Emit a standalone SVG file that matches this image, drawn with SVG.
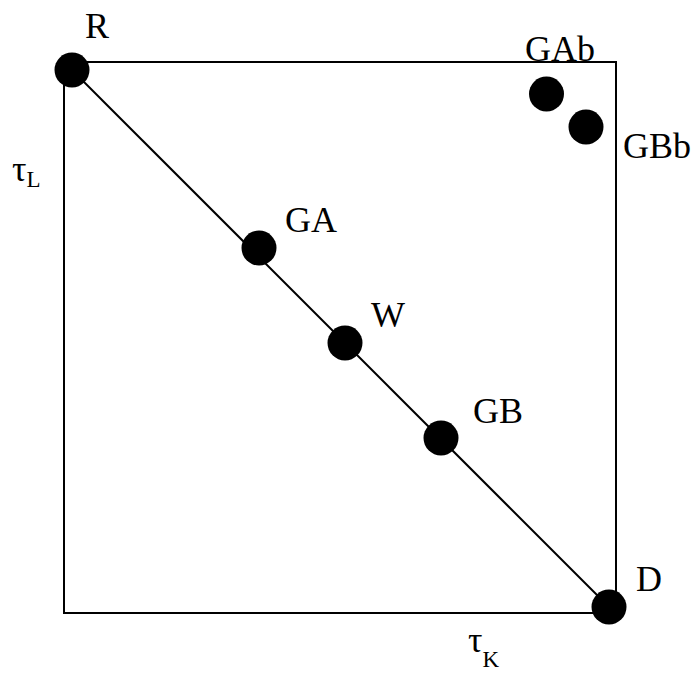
<svg xmlns="http://www.w3.org/2000/svg" width="696" height="677" viewBox="0 0 696 677">
<style>
.lbl{font-family:"Liberation Serif","DejaVu Serif",serif;font-size:36px;fill:#000}
.sub{font-size:23px}
.dot{fill:#000}
.ln{stroke:#000;stroke-width:2;fill:none}
</style>
<rect width="696" height="677" fill="#fff"/>
<g id="connectors">
<rect class="ln" x="64" y="62" width="552" height="551"/>
<line class="ln" x1="72" y1="70" x2="609" y2="607"/>
</g>
<g id="R"><circle class="dot" cx="72" cy="70" r="17.5"/><text class="lbl" x="85" y="38">R</text></g>
<g id="GA"><circle class="dot" cx="259" cy="248" r="17.5"/><text class="lbl" x="285" y="232">GA</text></g>
<g id="W"><circle class="dot" cx="345" cy="343" r="17.5"/><text class="lbl" x="371" y="327">W</text></g>
<g id="GB"><circle class="dot" cx="441" cy="438" r="17.5"/><text class="lbl" x="473" y="423">GB</text></g>
<g id="D"><circle class="dot" cx="609" cy="607" r="17.5"/><text class="lbl" x="636" y="591">D</text></g>
<g id="GAb"><circle class="dot" cx="546.5" cy="94" r="17.5"/><text class="lbl" x="525" y="61">GAb</text></g>
<g id="GBb"><circle class="dot" cx="586" cy="127" r="17.5"/><text class="lbl" x="623" y="158">GBb</text></g>
<g id="tauL"><text class="lbl" x="12" y="181">τ<tspan class="sub" dy="6">L</tspan></text></g>
<g id="tauK"><text class="lbl" x="468" y="652">τ<tspan class="sub" dy="15">K</tspan></text></g>
</svg>
